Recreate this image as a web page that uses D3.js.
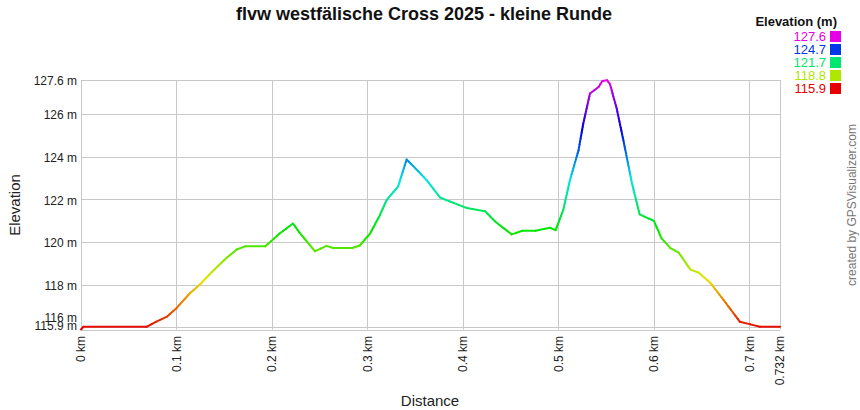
<!DOCTYPE html>
<html><head><meta charset="utf-8">
<script src="https://cdn.jsdelivr.net/npm/d3@7"></script>
<style>body{margin:0;background:#fff}svg{display:block;font-family:"Liberation Sans",Arial,sans-serif}</style>
</head><body><svg id="c" width="860" height="410"></svg>
<script>
const distances = [0,0.0025,0.069,0.079,0.090,0.100,0.114,0.125,0.137,0.153,0.163,0.172,0.193,0.208,0.222,0.229,0.245,0.257,0.264,0.284,0.292,0.3027,0.313,0.320,0.332,0.341,0.348,0.362,0.376,0.387,0.404,0.423,0.434,0.451,0.462,0.476,0.491,0.497,0.505,0.512,0.521,0.526,0.533,0.542,0.546,0.551,0.554,0.561,0.568,0.577,0.585,0.600,0.608,0.617,0.626,0.638,0.647,0.659,0.673,0.690,0.701,0.711,0.732];
const elevations = [115.9,116.03,116.03,116.27,116.5,116.9,117.6,118.03,118.6,119.28,119.65,119.8,119.8,120.4,120.87,120.43,119.57,119.82,119.72,119.72,119.84,120.4,121.26,121.97,122.6,123.87,123.56,122.9,122.09,121.89,121.6,121.45,120.95,120.36,120.53,120.53,120.67,120.56,121.5,122.9,124.3,125.56,126.97,127.27,127.55,127.59,127.4,126.26,124.77,122.75,121.3,120.99,120.17,119.73,119.5,118.72,118.56,118.09,117.28,116.26,116.14,116.03,116.03];
const xTicks = [0,0.1,0.2,0.3,0.4,0.5,0.6,0.7,0.732];
const xTickLabels = ["0 km","0.1 km","0.2 km","0.3 km","0.4 km","0.5 km","0.6 km","0.7 km","0.732 km"];
const yTicks = [115.9,116,118,120,122,124,126,127.6];
const yTickLabels = ["115.9 m","116 m","118 m","120 m","122 m","124 m","126 m","127.6 m"];
const legendValues = [127.6,124.7,121.7,118.8,115.9];
const titleText = "flvw westfälische Cross 2025 - kleine Runde";

const svg = d3.select("#c");
const x = d3.scaleLinear().domain([0,0.732]).range([81,780]);
const y = d3.scaleLinear().domain([115.9,127.6]).range([329.5,80]);
const color = v => d3.hsl(300*(v-115.9)/(127.6-115.9),1,0.45).formatHex();

// grid
const g = svg.append("g");
g.selectAll(".vg").data(xTicks).join("line")
  .attr("x1",d=>Math.round(x(d))+0.5).attr("x2",d=>Math.round(x(d))+0.5)
  .attr("y1",y(127.6)).attr("y2",y(115.9)).attr("stroke","#c8c8c8");
g.selectAll(".hg").data(yTicks).join("line")
  .attr("y1",d=>Math.round(y(d))+0.5).attr("y2",d=>Math.round(y(d))+0.5)
  .attr("x1",x(0)).attr("x2",x(0.732)).attr("stroke","#c8c8c8");

// y labels: baseline a little below tick; bottom label sits on its tick, a crowded neighbour is lifted
g.selectAll(".yl").data(yTicks).join("text")
  .attr("x",77)
  .attr("y",(d,i)=> i===0 ? y(d) : (y(yTicks[i-1])-y(d) < 10 ? y(d)-5.3 : y(d)+5.3))
  .attr("text-anchor","end").attr("font-size",12).attr("fill","#222")
  .text((d,i)=>yTickLabels[i]);
// x labels
g.selectAll(".xl").data(xTicks).join("text")
  .attr("transform",d=>`translate(${x(d)},336) rotate(-90)`).attr("dy","0.35em")
  .attr("text-anchor","end").attr("font-size",12).attr("fill","#222")
  .text((d,i)=>xTickLabels[i]);

// line
const pts = distances.map((d,i)=>({d,e:elevations[i]}));
const segs=[];
for(let i=0;i<pts.length-1;i++){
  const a=pts[i], b=pts[i+1];
  const n=Math.max(1,Math.ceil(Math.abs(b.e-a.e)/0.15));
  for(let k=0;k<n;k++){
    const t0=k/n,t1=(k+1)/n;
    segs.push({d0:a.d+(b.d-a.d)*t0,d1:a.d+(b.d-a.d)*t1,e0:a.e+(b.e-a.e)*t0,e1:a.e+(b.e-a.e)*t1});
  }
}
svg.append("g").selectAll("line").data(segs).join("line")
  .attr("x1",s=>x(s.d0)).attr("y1",s=>y(s.e0)).attr("x2",s=>x(s.d1)).attr("y2",s=>y(s.e1))
  .attr("stroke",s=>color((s.e0+s.e1)/2)).attr("stroke-width",2).attr("stroke-linecap","round");

// title
svg.append("text").attr("x",424).attr("y",20).attr("text-anchor","middle")
  .attr("font-size",18).attr("font-weight","bold").attr("fill","#111").text(titleText);
// axis titles
svg.append("text").attr("x",430).attr("y",406).attr("text-anchor","middle")
  .attr("font-size",15).attr("fill","#222").text("Distance");
svg.append("text").attr("transform","translate(20,205) rotate(-90)").attr("text-anchor","middle")
  .attr("font-size",15).attr("fill","#222").text("Elevation");
// credit
svg.append("text").attr("transform","translate(856,205) rotate(-90)").attr("text-anchor","middle")
  .attr("font-size",12).attr("fill","#777").text("created by GPSVisualizer.com");

// legend
svg.append("text").attr("x",837).attr("y",26).attr("text-anchor","end")
  .attr("font-size",13).attr("font-weight","bold").attr("fill","#111").text("Elevation (m)");
const lg = svg.append("g").selectAll("g").data(legendValues).join("g")
  .attr("transform",(d,i)=>`translate(0,${41+i*13})`);
lg.append("text").attr("x",826).attr("y",0).attr("text-anchor","end")
  .attr("font-size",13).attr("fill",d=>color(d)).text(d=>d.toFixed(1));
lg.append("rect").attr("x",830).attr("y",-10).attr("width",11).attr("height",11)
  .attr("fill",d=>color(d));
</script></body></html>
